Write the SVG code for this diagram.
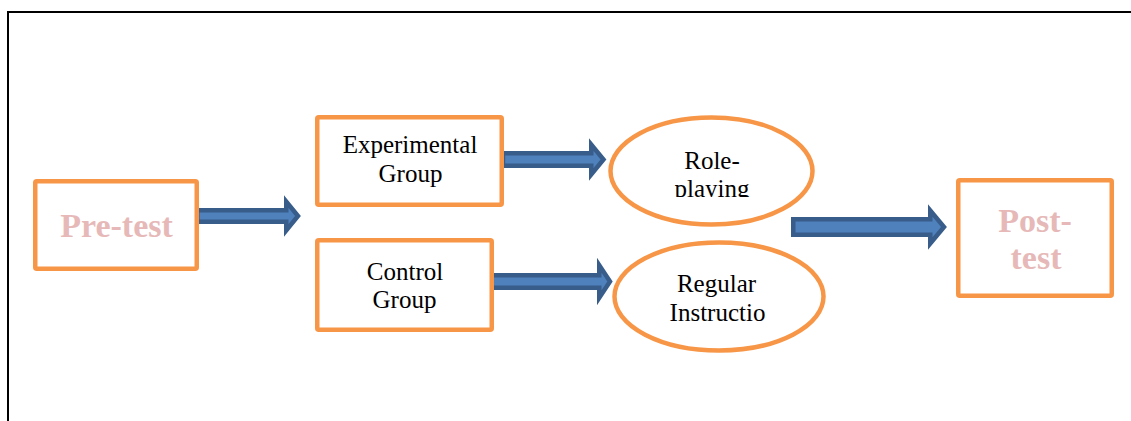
<svg xmlns="http://www.w3.org/2000/svg" width="1131" height="421" viewBox="0 0 1131 421">
<style>
.box{fill:#fff;stroke:#f79646;stroke-width:4.5}
.arr{fill:#4f81bd;stroke:#385d8a;stroke-width:4.5;stroke-linejoin:miter}
.lbl{font-family:"Liberation Serif",serif;font-size:25px;fill:#000;text-anchor:middle}
.big{font-family:"Liberation Serif",serif;font-weight:bold;font-size:34px;fill:#e6b9b8;text-anchor:middle}
</style>
<defs>
<clipPath id="roleClip"><rect x="600" y="120" width="230" height="77"/></clipPath>
</defs>
<rect width="1131" height="421" fill="#fff"/>
<path d="M8,421 V12 H1131" fill="none" stroke="#000" stroke-width="2"/>
<g id="connectors">
<path class="arr" d="M197.25,210.25 H286.25 V201.5 L298,216 L286.25,230.5 V221.75 H197.25 Z"/>
<path class="arr" d="M503,153.25 H591.25 V144.5 L603.5,159.5 L591.25,174.5 V165.75 H503 Z"/>
<path class="arr" d="M490,275.25 H599.25 V265.25 L610,281.5 L599.25,297.75 V287.75 H490 Z"/>
<path class="arr" d="M793.25,219.25 H930.25 V210.5 L944,227 L930.25,243.5 V234.75 H793.25 Z"/>
</g>
<g id="pretest">
<rect class="box" x="35.25" y="181.25" width="161.5" height="87.5" rx="1.5"/>
<text class="big" x="116.5" y="237" font-size="35">Pre-test</text>
</g>
<g id="experimental">
<rect class="box" x="317.25" y="117.25" width="184.5" height="87.5" rx="1.5"/>
<text class="lbl" x="410" y="153">Experimental</text>
<text class="lbl" x="410.5" y="182">Group</text>
</g>
<g id="control">
<rect class="box" x="317.25" y="240.25" width="174.5" height="89.5" rx="1.5"/>
<text class="lbl" x="405" y="280">Control</text>
<text class="lbl" x="404.5" y="308">Group</text>
</g>
<g id="roleplaying">
<ellipse class="box" cx="711.5" cy="171" rx="101" ry="53.5"/>
<text class="lbl" x="712" y="169">Role-</text>
<text class="lbl" x="712" y="197" clip-path="url(#roleClip)">playing</text>
</g>
<g id="regular">
<ellipse class="box" cx="719" cy="296.5" rx="104.5" ry="54"/>
<text class="lbl" x="716.5" y="292">Regular</text>
<text class="lbl" x="717.5" y="321">Instructio</text>
</g>
<g id="posttest">
<rect class="box" x="958.25" y="180.25" width="153.5" height="115.5" rx="1.5"/>
<text class="big" x="1035" y="232">Post-</text>
<text class="big" x="1036" y="269">test</text>
</g>
</svg>
